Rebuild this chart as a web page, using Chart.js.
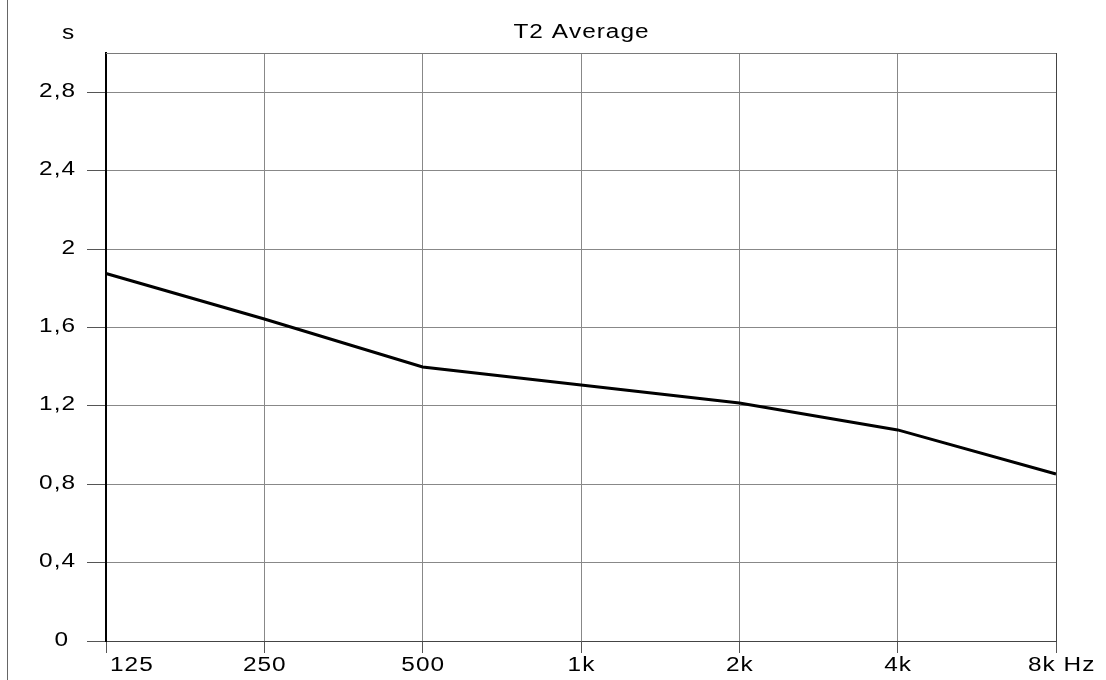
<!DOCTYPE html>
<html><head><meta charset="utf-8">
<script src="https://cdn.jsdelivr.net/npm/chart.js@4/dist/chart.umd.min.js"></script>
<style>
html,body{margin:0;padding:0;background:#fff;width:1106px;height:680px;overflow:hidden}
#wrap{position:relative;width:1106px;height:680px}
#edge{position:absolute;left:7px;top:0;width:1px;height:680px;background:#666}
canvas{position:absolute;left:0;top:0}
</style></head>
<body><div id="wrap"><div id="edge"></div><canvas id="c" width="1106" height="680"></canvas></div>
<script>
const categories = ['125','250','500','1k','2k','4k','8k'];
const t2Values = [1.875, 1.643, 1.398, 1.306, 1.214, 1.077, 0.852];
const yTickValues = [0, 0.4, 0.8, 1.2, 1.6, 2, 2.4, 2.8];
const yTickLabels = ['0','0,4','0,8','1,2','1,6','2','2,4','2,8'];
const chartTitle = 'T2 Average';
const yUnit = 's';
const xUnit = 'Hz';

const FONT = '20px "Liberation Sans", Arial, sans-serif';
const SX = 1.22, SP = 1;

function wideText(ctx, t, x, y, align){
  let w = 0;
  for (const ch of t) w += ctx.measureText(ch).width * SX;
  w += SP * (t.length - 1);
  let x0 = align === 'left' ? x : (align === 'right' ? x - w : x - w / 2);
  for (const ch of t){
    ctx.save();
    ctx.translate(x0, y);
    ctx.scale(SX, 1);
    ctx.fillText(ch, 0, 0);
    ctx.restore();
    x0 += ctx.measureText(ch).width * SX + SP;
  }
}

const textPlugin = {
  id: 'txt',
  afterDraw(chart){
    const ctx = chart.ctx, xs = chart.scales.x, ys = chart.scales.y, a = chart.chartArea;
    ctx.save();
    ctx.strokeStyle = '#7a7a7a'; ctx.lineWidth = 1;
    ctx.beginPath(); ctx.moveTo(a.left, a.top + 0.5); ctx.lineTo(a.right, a.top + 0.5); ctx.stroke();
    ctx.strokeStyle = '#444';
    ctx.beginPath(); ctx.moveTo(a.right + 0.5, a.top); ctx.lineTo(a.right + 0.5, a.bottom); ctx.stroke();
    ctx.fillStyle = '#000';
    ctx.font = FONT;
    ctx.textBaseline = 'middle';
    ctx.textAlign = 'left';
    wideText(ctx, chartTitle, (a.left + a.right) / 2, 32, 'center');
    wideText(ctx, yUnit, 68, 33, 'center');
    yTickValues.forEach((v, i) => {
      wideText(ctx, yTickLabels[i], v === 0 ? 68 : 75, ys.getPixelForValue(v) - 1, 'right');
    });
    categories.forEach((c, i) => {
      const px = xs.getPixelForValue(i);
      if (i === 0) wideText(ctx, c, px + 4, 665, 'left');
      else if (i === categories.length - 1) wideText(ctx, c + ' ' + xUnit, px - 28, 665, 'left');
      else wideText(ctx, c, px, 665, 'center');
    });
    ctx.restore();
  }
};

new Chart(document.getElementById('c'), {
  type: 'line',
  data: {
    labels: categories,
    datasets: [{
      label: chartTitle,
      data: t2Values,
      borderColor: '#000',
      borderWidth: 3,
      pointRadius: 0,
      tension: 0,
      fill: false
    }]
  },
  options: {
    responsive: false,
    animation: false,
    devicePixelRatio: 1,
    layout: { padding: { left: 0, right: 50, top: 53, bottom: 0 } },
    plugins: { legend: { display: false }, tooltip: { enabled: false }, title: { display: false } },
    scales: {
      x: {
        type: 'category',
        offset: false,
        grid: { color: '#888', lineWidth: 1, tickLength: 12, tickColor: '#555', drawTicks: true },
        border: { color: '#444', width: 1 },
        ticks: { display: false, autoSkip: false },
        afterFit(s){ s.height = 39; }
      },
      y: {
        min: 0, max: 3.0,
        afterBuildTicks(s){ s.ticks = yTickValues.map(v => ({ value: v })); },
        grid: { color: '#888', lineWidth: 1, tickLength: 19, tickColor: '#555', drawTicks: true },
        border: { color: '#000', width: 2 },
        ticks: { display: false },
        afterFit(s){ s.width = 106; }
      }
    }
  },
  plugins: [textPlugin]
});
</script>
</body></html>
